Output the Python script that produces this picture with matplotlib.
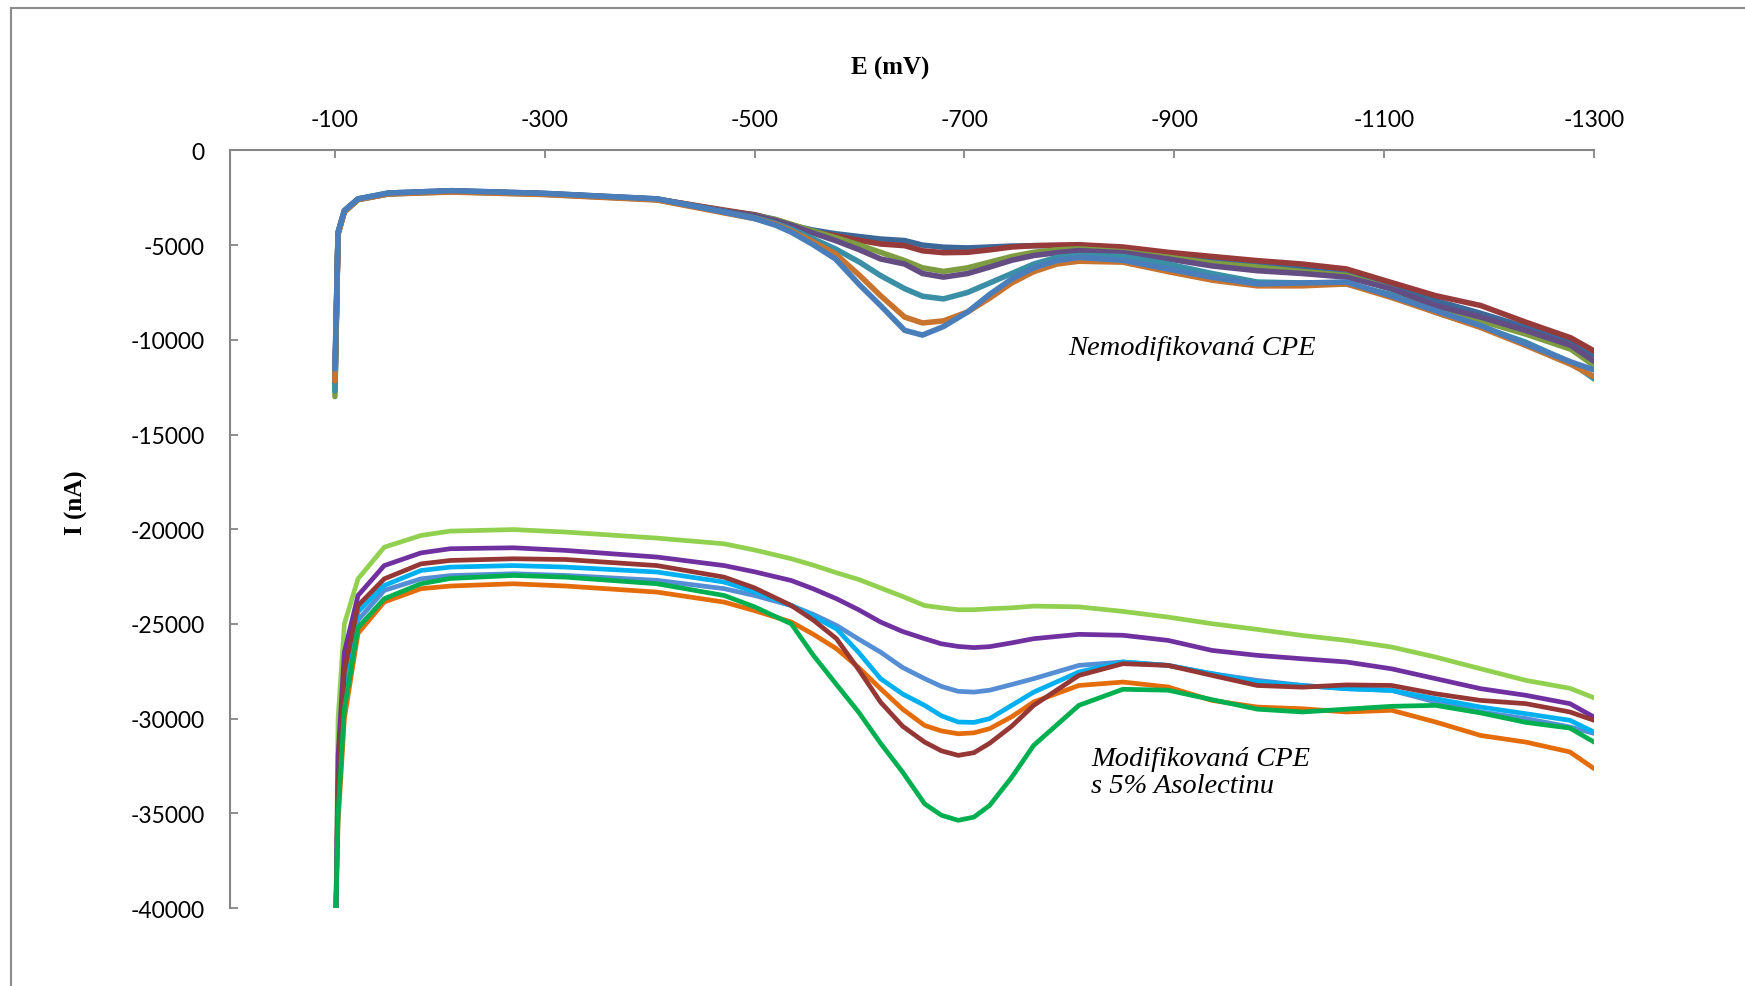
import matplotlib
matplotlib.use('Agg')
import matplotlib.pyplot as plt
from matplotlib.lines import Line2D

plt.rcParams['axes.unicode_minus'] = False

# potenciál (mV) - nemodifikovaná CPE
E_top = [-100, -103, -109, -122, -151, -211, -300, -407, -471, -500, -520, -535, -555, -577, -600,
         -620, -643, -660, -680, -703, -724, -745, -766, -788, -809, -851, -894, -936, -979, -1022,
         -1064, -1106, -1149, -1192, -1235, -1278, -1300]

top_steel = [-12300, -4320, -3180, -2560, -2250, -2127, -2270, -2560, -3200, -3400, -3650, -3950,
             -4200, -4400, -4550, -4680, -4760, -5000, -5110, -5150, -5100, -5050, -5030, -5030,
             -5030, -5250, -5470, -5750, -6000, -6250, -6530, -7100, -7930, -8600, -9330, -10100,
             -10800]
top_red = [-12300, -4400, -3200, -2580, -2280, -2150, -2290, -2580, -3150, -3400, -3700, -4050,
           -4300, -4500, -4750, -4940, -5030, -5300, -5400, -5380, -5250, -5100, -5030, -5000,
           -4980, -5100, -5380, -5600, -5820, -6000, -6260, -6960, -7670, -8190, -9070, -9900,
           -10590]
top_green = [-13000, -4400, -3200, -2580, -2280, -2150, -2290, -2580, -3200, -3450, -3650, -3900,
             -4250, -4600, -5000, -5380, -5820, -6200, -6390, -6200, -5900, -5600, -5380, -5250,
             -5200, -5350, -5640, -5950, -6160, -6400, -6600, -7300, -8370, -9000, -9700, -10500,
             -11360]
top_purple = [-12300, -4400, -3200, -2580, -2280, -2150, -2290, -2580, -3200, -3450, -3700, -3950,
              -4350, -4760, -5250, -5730, -6000, -6500, -6690, -6500, -6160, -5800, -5550, -5400,
              -5290, -5400, -5730, -6100, -6350, -6500, -6690, -7300, -8190, -8800, -9510, -10300,
              -11130]
top_teal = [-12700, -4400, -3250, -2600, -2300, -2180, -2320, -2600, -3250, -3550, -3850, -4150,
            -4650, -5200, -5900, -6610, -7300, -7700, -7840, -7500, -7000, -6500, -6000, -5650,
            -5550, -5600, -6000, -6500, -6950, -7000, -7050, -7600, -8550, -9300, -10130, -11200,
            -12060]
top_orange = [-12160, -4400, -3250, -2600, -2300, -2200, -2330, -2620, -3300, -3600, -3900, -4250,
              -4800, -5460, -6600, -7670, -8800, -9110, -9000, -8530, -7800, -7000, -6400, -6000,
              -5850, -5900, -6400, -6850, -7150, -7150, -7050, -7750, -8550, -9350, -10300, -11300,
              -11940]
top_blue = [-11540, -4320, -3180, -2560, -2250, -2127, -2270, -2560, -3260, -3600, -3950, -4320,
            -4950, -5730, -7100, -8190, -9500, -9750, -9300, -8530, -7600, -6790, -6200, -5820,
            -5650, -5800, -6260, -6700, -7050, -7000, -6950, -7670, -8460, -9250, -10220, -11170,
            -11590]

# potenciál (mV) - modifikovaná CPE s 5% Asolectinu
E_bot = [-101, -103, -109, -122, -147, -182, -210, -270, -320, -407, -471, -500, -535, -556, -578,
         -599, -620, -641, -662, -678, -694, -709, -724, -745, -766, -809, -851, -894, -936, -979,
         -1022, -1064, -1107, -1149, -1192, -1235, -1277, -1300]

bot_lgreen = [-40000, -30000, -25000, -22620, -20950, -20330, -20100, -20020, -20150, -20470, -20770,
              -21100, -21560, -21900, -22300, -22650, -23100, -23550, -24030, -24150, -24250, -24250,
              -24200, -24150, -24060, -24100, -24340, -24640, -24990, -25290, -25610, -25870, -26220,
              -26750, -27370, -27980, -28400, -28900]
bot_purple = [-40000, -32000, -26500, -23500, -21920, -21250, -21030, -20980, -21120, -21470, -21920,
              -22250, -22710, -23150, -23670, -24250, -24900, -25400, -25780, -26050, -26190, -26250,
              -26200, -26000, -25780, -25550, -25600, -25870, -26400, -26660, -26840, -27010, -27370,
              -27890, -28420, -28770, -29210, -29920]
bot_dred = [-40000, -33500, -27500, -24030, -22620, -21830, -21650, -21560, -21600, -21920, -22530,
            -23100, -24030, -24800, -25780, -27400, -29130, -30400, -31240, -31700, -31940, -31800,
            -31300, -30400, -29300, -27720, -27100, -27190, -27720, -28250, -28340, -28220, -28250,
            -28690, -29040, -29210, -29650, -30090]
bot_cyan = [-40000, -34000, -28000, -24360, -22970, -22180, -22000, -21920, -22000, -22260, -22790,
            -23300, -24030, -24600, -25260, -26500, -27890, -28700, -29300, -29850, -30180, -30200,
            -30000, -29300, -28600, -27540, -27010, -27190, -27630, -28070, -28250, -28420, -28510,
            -28950, -29390, -29740, -30090, -30710]
bot_lblue = [-40000, -34500, -28500, -24800, -23230, -22620, -22450, -22350, -22440, -22700, -23140,
             -23500, -24030, -24500, -25080, -25800, -26490, -27300, -27890, -28300, -28560, -28600,
             -28500, -28200, -27890, -27190, -27010, -27190, -27630, -27980, -28250, -28420, -28510,
             -29120, -29650, -30000, -30440, -30780]
bot_orange = [-40000, -35500, -30000, -25500, -23840, -23140, -23000, -22880, -23000, -23320, -23850,
              -24300, -24900, -25550, -26310, -27300, -28420, -29500, -30360, -30650, -30800, -30750,
              -30530, -29900, -29120, -28250, -28070, -28330, -29040, -29390, -29480, -29650, -29560,
              -30180, -30890, -31240, -31760, -32640]
bot_green = [-40000, -35000, -29500, -25200, -23670, -22880, -22600, -22440, -22530, -22880, -23500,
             -24100, -25000, -26660, -28200, -29650, -31300, -32820, -34500, -35100, -35370, -35200,
             -34580, -33100, -31410, -29300, -28450, -28500, -29000, -29500, -29650, -29500, -29350,
             -29300, -29700, -30200, -30500, -31240]

x_ticks = [-100, -300, -500, -700, -900, -1100, -1300]
y_ticks = [0, -5000, -10000, -15000, -20000, -25000, -30000, -35000, -40000]

fig = plt.figure(figsize=(17.45, 9.87), dpi=100)
ax = fig.add_axes([0.1318, 0.079, 0.7817, 0.7676])

# horní skupina
for y, c in [(top_steel, '#3C6898'), (top_red, '#973B3A'), (top_green, '#7E9D43'),
             (top_purple, '#634D83'), (top_teal, '#3A8FA6'), (top_orange, '#C8742F'),
             (top_blue, '#4A7EBB')]:
    ax.plot(E_top, y, color=c, lw=4.0, solid_capstyle='round', solid_joinstyle='round')

# dolní skupina
for y, c in [(bot_lgreen, '#92D050'), (bot_purple, '#7030A0'), (bot_orange, '#E46C0A'),
             (bot_lblue, '#558ED5'), (bot_cyan, '#00B0F0'), (bot_dred, '#953735'),
             (bot_green, '#00B050')]:
    ax.plot(E_bot, y, color=c, lw=3.4, solid_capstyle='round', solid_joinstyle='round')

ax.set_xlim(0, -1300)
ax.set_ylim(-40000, 0)
ax.xaxis.tick_top()
ax.set_xticks(x_ticks)
ax.set_yticks(y_ticks)
ax.spines['right'].set_visible(False)
ax.spines['bottom'].set_visible(False)
for s in ['left', 'top']:
    ax.spines[s].set_color('#868686')
    ax.spines[s].set_linewidth(1.5)
ax.tick_params(axis='both', direction='in', length=6, width=1.3, color='#868686',
               labelsize=16.5)
ax.tick_params(axis='x', pad=15)
ax.tick_params(axis='y', pad=18)
for lab in ax.get_xticklabels() + ax.get_yticklabels():
    lab.set_fontfamily('Lato')

fig.text(890 / 1745, 1 - 68 / 987, 'E (mV)', ha='center', va='center',
         family='Liberation Serif', weight='bold', fontsize=18)
fig.text(76 / 1745, 1 - 503 / 987, 'I (nA)', ha='center', va='center', rotation=90,
         family='Liberation Serif', weight='bold', fontsize=18)

ax.text(-799, -10430, 'Nemodifikovaná CPE', ha='left', va='center',
        family='Liberation Serif', style='italic', fontsize=20.5)
ax.text(-821, -32800, 'Modifikovaná CPE\ns 5% Asolectinu', ha='left', va='center',
        family='Liberation Serif', style='italic', fontsize=20.5, linespacing=1.1)

# rámeček grafu
fig.add_artist(Line2D([11 / 1745, 11 / 1745], [0, 1 - 9 / 987], color='#8C8C8C', lw=1.5,
                      transform=fig.transFigure))
fig.add_artist(Line2D([11 / 1745, 1], [1 - 9 / 987, 1 - 9 / 987], color='#8C8C8C', lw=1.5,
                      transform=fig.transFigure))

fig.savefig('out.png', dpi=100)
